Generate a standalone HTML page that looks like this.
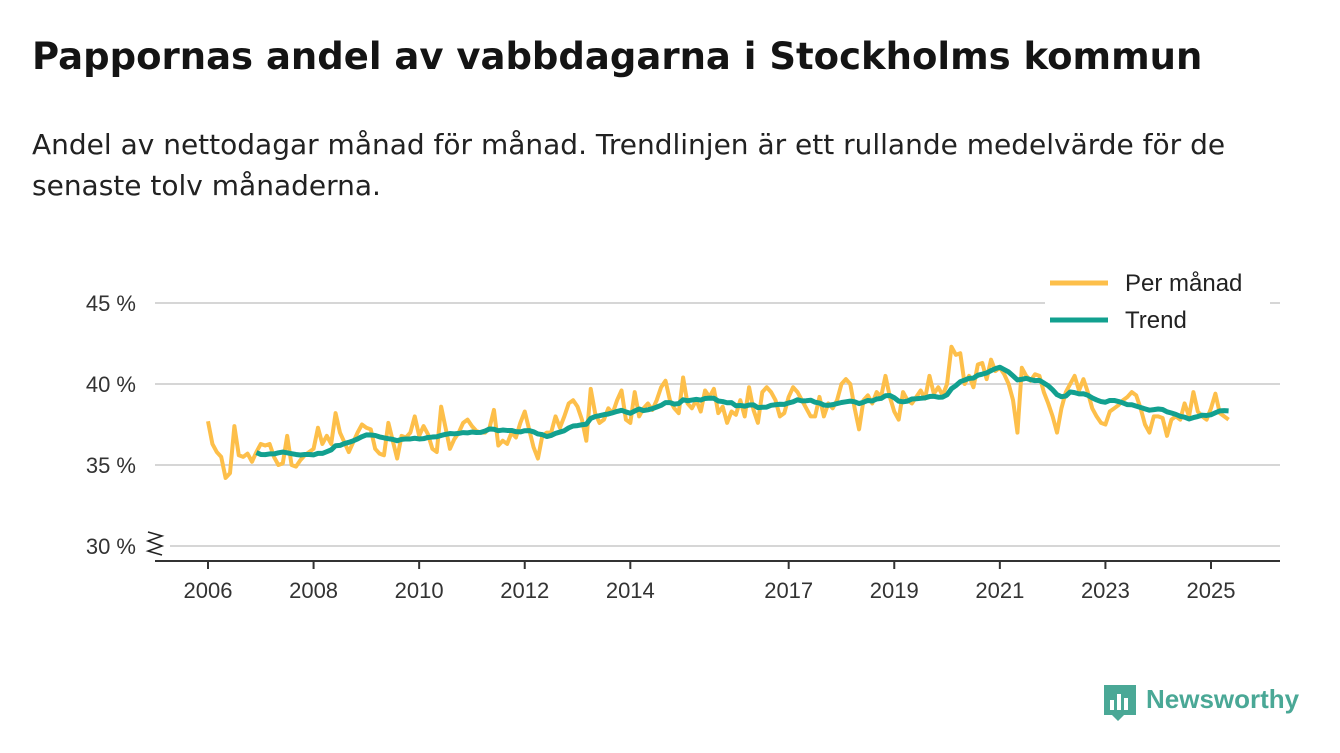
<!DOCTYPE html>
<html><head><meta charset="utf-8"><style>
body{margin:0;width:1340px;height:753px;background:#fff;font-family:"Liberation Sans",sans-serif;overflow:hidden;position:relative}
h1{position:absolute;left:32px;top:35px;margin:0;font-family:"DejaVu Sans",sans-serif;font-size:37px;font-weight:bold;color:#141414;white-space:nowrap}
p{position:absolute;left:32px;top:124px;margin:0;font-family:"DejaVu Sans",sans-serif;font-size:28px;line-height:41px;color:#222;width:1300px;white-space:nowrap}
</style></head><body>
<h1>Pappornas andel av vabbdagarna i Stockholms kommun</h1>
<p>Andel av nettodagar månad för månad. Trendlinjen är ett rullande medelvärde för de<br>senaste tolv månaderna.</p>
<svg id="chart" width="1340" height="753" style="position:absolute;left:0;top:0"></svg>
<script>
const yTicks=[30,35,40,45];
const xTickYears=[2006,2008,2010,2012,2014,2017,2019,2021,2023,2025];
const startYear=2006;
const monthly=[
37.7,36.3,35.8,35.5,34.2,34.5,37.4,35.6,35.5,35.7,35.2,35.8,
36.3,36.2,36.3,35.5,35.0,35.1,36.8,35.0,34.9,35.3,35.6,35.8,
36.0,37.3,36.3,36.8,36.3,38.2,37.0,36.4,35.8,36.4,37.0,37.5,
37.3,37.2,36.0,35.7,35.6,37.6,36.5,35.4,36.8,36.7,37.0,38.0,
36.8,37.4,36.9,36.0,35.8,38.6,37.3,36.0,36.6,37.0,37.6,37.8,
37.4,37.1,37.0,37.0,37.3,38.4,36.2,36.5,36.3,37.0,36.7,37.6,
38.3,37.2,36.1,35.4,36.8,37.0,37.0,38.0,37.3,38.0,38.8,39.0,
38.6,37.8,36.5,39.7,38.2,37.6,37.8,38.5,38.2,39.0,39.6,37.8,
37.6,39.5,38.0,38.5,38.8,38.4,39.0,39.8,40.2,39.0,38.5,38.2,
40.4,38.8,38.5,39.0,38.3,39.6,39.2,39.7,38.2,38.6,37.6,38.3,
38.1,39.0,38.0,39.8,38.4,37.6,39.5,39.8,39.5,39.0,38.0,38.2,
39.2,39.8,39.5,39.0,38.5,38.0,38.0,39.2,38.0,38.8,38.5,39.0,
40.0,40.3,40.0,38.5,37.2,39.0,39.3,38.8,39.5,39.2,40.5,39.2,
38.3,37.8,39.5,39.0,38.8,39.2,39.6,39.1,40.5,39.4,39.8,39.3,
40.0,42.3,41.8,41.9,40.0,40.5,39.8,41.2,41.3,40.3,41.5,40.8,
41.0,40.6,40.0,39.0,37.0,41.0,40.5,40.2,40.6,40.5,39.5,38.8,
38.0,37.0,38.5,39.5,40.0,40.5,39.6,40.3,39.5,38.5,38.0,37.6,
37.5,38.3,38.5,38.7,39.0,39.2,39.5,39.3,38.5,37.5,37.0,38.0,
38.0,37.9,36.8,37.8,38.0,37.8,38.8,38.0,39.5,38.3,38.0,37.8,
38.5,39.4,38.2,38.0,37.8];
const NS="http://www.w3.org/2000/svg";
const svg=document.getElementById('chart');
const X=t=>208+(t-2006)*(1211-208)/19;
const Y=v=>546-(v-30)*16.2;
function mk(tag,attrs,parent){const e=document.createElementNS(NS,tag);for(const k in attrs)e.setAttribute(k,attrs[k]);(parent||svg).appendChild(e);return e;}
yTicks.forEach(v=>{
  const g=mk('line',{x1:v===30?170:155,x2:1280,y1:Y(v),y2:Y(v),stroke:'#d6d6d6','stroke-width':2});
  
  
  const t=mk('text',{x:136,y:Y(v)+8,'text-anchor':'end','font-size':22,fill:'#333'});
  t.textContent=v+' %';
  
  
});
const ax=mk('line',{x1:155,x2:1280,y1:561,y2:561,stroke:'#333','stroke-width':2});


const br=mk('path',{d:'M148 532 L162 536 L148 541 L162 546 L148 551 L162 555',fill:'none',stroke:'#222','stroke-width':1.5});


xTickYears.forEach(yr=>{
  const l=mk('line',{x1:X(yr),x2:X(yr),y1:561,y2:569,stroke:'#333','stroke-width':2});
  
  
  const t=mk('text',{x:X(yr),y:598,'text-anchor':'middle','font-size':22,fill:'#333'});
  t.textContent=yr;
  
  
});
const mpts=monthly.map((v,i)=>[X(startYear+i/12),Y(v)]);
const ml=mk('polyline',{points:mpts.map(p=>p.join(',')).join(' '),fill:'none',stroke:'#fdbf4a','stroke-width':4,'stroke-linejoin':'round'});


const trend=[];
for(let i=11;i<monthly.length;i++){let s=0;for(let j=i-11;j<=i;j++)s+=monthly[j];trend.push([X(startYear+i/12),Y(s/12)]);}
const tl=mk('polyline',{points:trend.map(p=>p.join(',')).join(' '),fill:'none',stroke:'#12a08f','stroke-width':5,'stroke-linejoin':'round'});


const lg=mk('g',{});


mk('rect',{x:1045,y:262,width:225,height:80,fill:'#fff'},lg);
mk('line',{x1:1050,x2:1108,y1:283,y2:283,stroke:'#fdbf4a','stroke-width':5},lg);
mk('line',{x1:1050,x2:1108,y1:320,y2:320,stroke:'#12a08f','stroke-width':5},lg);
const l1=mk('text',{x:1125,y:291,'font-size':24,fill:'#222'},lg);l1.textContent='Per månad';


const l2=mk('text',{x:1125,y:328,'font-size':24,fill:'#222'},lg);l2.textContent='Trend';


const lo=mk('g',{});


mk('path',{d:'M1104 685 h32 v30 h-12 l-6 6 l-6 -6 h-8 z',fill:'#4aa896'},lo);
mk('rect',{x:1110,y:700,width:4,height:10,fill:'#fff'},lo);
mk('rect',{x:1117,y:694,width:4,height:16,fill:'#fff'},lo);
mk('rect',{x:1124,y:698,width:4,height:12,fill:'#fff'},lo);
const lt=mk('text',{x:1146,y:708,'font-size':26,'font-weight':'bold',fill:'#4aa896'},lo);lt.textContent='Newsworthy';
</script>
</body></html>
